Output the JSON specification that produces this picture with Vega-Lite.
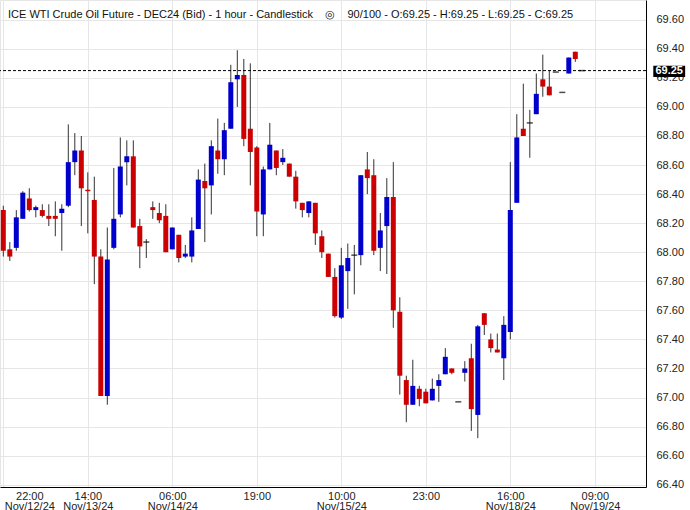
{
  "$schema": "https://vega.github.io/schema/vega-lite/v6.json",
  "width": 646,
  "height": 487,
  "padding": {"left": 0, "top": 0, "right": 44, "bottom": 23},
  "autosize": {"type": "none"},
  "background": "#ffffff",
  "title": {
    "text": "ICE WTI Crude Oil Future - DEC24 (Bid) - 1 hour - Candlestick \u00a0\u00a0\u00a0◎\u00a0\u00a0\u00a0 90/100 - O:69.25 - H:69.25 - L:69.25 - C:69.25",
    "anchor": "start",
    "frame": "group",
    "orient": "top",
    "offset": -18,
    "dy": 11,
    "baseline": "alphabetic",
    "dx": 8,
    "font": "Liberation Sans",
    "fontSize": 11,
    "fontWeight": "normal",
    "color": "#111111"
  },
  "config": {
    "view": {"stroke": "#e6e6e6"},
    "scale": {"continuousPadding": 0},
    "axis": {
      "labelFont": "Liberation Sans",
      "labelFontSize": 11,
      "labelColor": "#222222",
      "gridColor": "#e6e6e6",
      "gridWidth": 1,
      "domainColor": "#000000",
      "domainWidth": 1,
      "ticks": false,
      "tickSize": 0,
      "labelOverlap": false
    }
  },
  "data": {
    "values": [
      {"i":1,"o":68.29,"h":68.32,"l":67.97,"c":68.01},
      {"i":2,"o":68.02,"h":68.07,"l":67.94,"c":67.97},
      {"i":3,"o":68.03,"h":68.29,"l":68.01,"c":68.24},
      {"i":4,"o":68.23,"h":68.42,"l":68.23,"c":68.41},
      {"i":5,"o":68.37,"h":68.44,"l":68.28,"c":68.29},
      {"i":6,"o":68.29,"h":68.32,"l":68.24,"c":68.31},
      {"i":7,"o":68.29,"h":68.33,"l":68.24,"c":68.25},
      {"i":8,"o":68.25,"h":68.33,"l":68.18,"c":68.23},
      {"i":9,"o":68.25,"h":68.35,"l":68.11,"c":68.23},
      {"i":10,"o":68.27,"h":68.33,"l":68.01,"c":68.30},
      {"i":11,"o":68.32,"h":68.88,"l":68.31,"c":68.62},
      {"i":12,"o":68.62,"h":68.82,"l":68.53,"c":68.70},
      {"i":13,"o":68.70,"h":68.80,"l":68.18,"c":68.44},
      {"i":14,"o":68.43,"h":68.55,"l":68.13,"c":68.42},
      {"i":15,"o":68.36,"h":68.52,"l":67.78,"c":67.97},
      {"i":16,"o":67.97,"h":68.02,"l":67.01,"c":67.01},
      {"i":17,"o":67.01,"h":68.17,"l":66.95,"c":67.95},
      {"i":18,"o":68.03,"h":68.58,"l":68.02,"c":68.23},
      {"i":19,"o":68.26,"h":68.79,"l":68.24,"c":68.59},
      {"i":20,"o":68.62,"h":68.77,"l":68.46,"c":68.66},
      {"i":21,"o":68.66,"h":68.77,"l":68.17,"c":68.17},
      {"i":22,"o":68.18,"h":68.23,"l":67.89,"c":68.04},
      {"i":23,"o":68.07,"h":68.09,"l":67.96,"c":68.07},
      {"i":24,"o":68.31,"h":68.35,"l":68.23,"c":68.29},
      {"i":25,"o":68.27,"h":68.34,"l":68.20,"c":68.22},
      {"i":26,"o":68.25,"h":68.33,"l":68.00,"c":68.00},
      {"i":27,"o":68.02,"h":68.17,"l":68.02,"c":68.17},
      {"i":28,"o":68.12,"h":68.12,"l":67.93,"c":67.96},
      {"i":29,"o":67.97,"h":68.05,"l":67.96,"c":67.99},
      {"i":30,"o":67.97,"h":68.24,"l":67.93,"c":68.15},
      {"i":31,"o":68.16,"h":68.57,"l":68.16,"c":68.50},
      {"i":32,"o":68.49,"h":68.61,"l":68.07,"c":68.44},
      {"i":33,"o":68.46,"h":68.77,"l":68.26,"c":68.73},
      {"i":34,"o":68.70,"h":68.92,"l":68.54,"c":68.64},
      {"i":35,"o":68.64,"h":68.89,"l":68.53,"c":68.84},
      {"i":36,"o":68.85,"h":69.29,"l":68.85,"c":69.17},
      {"i":37,"o":69.19,"h":69.39,"l":69.00,"c":69.22},
      {"i":38,"o":69.22,"h":69.33,"l":68.73,"c":68.78},
      {"i":39,"o":68.85,"h":69.30,"l":68.46,"c":68.69},
      {"i":40,"o":68.72,"h":68.73,"l":68.11,"c":68.28},
      {"i":41,"o":68.26,"h":68.59,"l":68.11,"c":68.57},
      {"i":42,"o":68.57,"h":68.89,"l":68.57,"c":68.74},
      {"i":43,"o":68.70,"h":68.70,"l":68.53,"c":68.58},
      {"i":44,"o":68.62,"h":68.71,"l":68.60,"c":68.65},
      {"i":45,"o":68.61,"h":68.61,"l":68.52,"c":68.52},
      {"i":46,"o":68.52,"h":68.56,"l":68.30,"c":68.35},
      {"i":47,"o":68.34,"h":68.34,"l":68.24,"c":68.29},
      {"i":48,"o":68.27,"h":68.35,"l":68.24,"c":68.35},
      {"i":49,"o":68.34,"h":68.34,"l":68.05,"c":68.13},
      {"i":50,"o":68.11,"h":68.15,"l":67.96,"c":68.00},
      {"i":51,"o":67.99,"h":67.99,"l":67.83,"c":67.83},
      {"i":52,"o":67.83,"h":67.89,"l":67.55,"c":67.56},
      {"i":53,"o":67.55,"h":68.03,"l":67.54,"c":67.91},
      {"i":54,"o":67.87,"h":68.06,"l":67.61,"c":67.96},
      {"i":55,"o":67.98,"h":68.05,"l":67.71,"c":67.98},
      {"i":56,"o":67.98,"h":68.53,"l":67.91,"c":68.53},
      {"i":57,"o":68.57,"h":68.69,"l":68.40,"c":68.51},
      {"i":58,"o":68.53,"h":68.64,"l":67.98,"c":68.01},
      {"i":59,"o":68.03,"h":68.27,"l":67.87,"c":68.15},
      {"i":60,"o":68.18,"h":68.51,"l":67.85,"c":68.38},
      {"i":61,"o":68.38,"h":68.62,"l":67.48,"c":67.60},
      {"i":62,"o":67.59,"h":67.69,"l":67.02,"c":67.15},
      {"i":63,"o":67.12,"h":67.15,"l":66.83,"c":66.95},
      {"i":64,"o":66.95,"h":67.26,"l":66.95,"c":67.08},
      {"i":65,"o":67.06,"h":67.08,"l":66.94,"c":66.99},
      {"i":66,"o":67.04,"h":67.06,"l":66.96,"c":66.96},
      {"i":67,"o":66.98,"h":67.13,"l":66.98,"c":67.06},
      {"i":68,"o":67.08,"h":67.16,"l":66.97,"c":67.12},
      {"i":69,"o":67.16,"h":67.34,"l":67.16,"c":67.28},
      {"i":70,"o":67.20,"h":67.20,"l":67.16,"c":67.17},
      {"i":71,"o":66.97,"h":66.97,"l":66.97,"c":66.97},
      {"i":72,"o":67.17,"h":67.25,"l":67.11,"c":67.20},
      {"i":73,"o":67.27,"h":67.37,"l":66.77,"c":66.92},
      {"i":74,"o":66.88,"h":67.50,"l":66.72,"c":67.49},
      {"i":75,"o":67.58,"h":67.58,"l":67.43,"c":67.50},
      {"i":76,"o":67.40,"h":67.44,"l":67.31,"c":67.34},
      {"i":77,"o":67.33,"h":67.44,"l":67.31,"c":67.31},
      {"i":78,"o":67.27,"h":67.56,"l":67.12,"c":67.50},
      {"i":79,"o":67.45,"h":68.62,"l":67.40,"c":68.29},
      {"i":80,"o":68.34,"h":68.95,"l":68.34,"c":68.79},
      {"i":81,"o":68.85,"h":69.16,"l":68.80,"c":68.80},
      {"i":82,"o":68.89,"h":68.98,"l":68.65,"c":68.89},
      {"i":83,"o":68.95,"h":69.23,"l":68.95,"c":69.09},
      {"i":84,"o":69.19,"h":69.36,"l":69.07,"c":69.14},
      {"i":85,"o":69.14,"h":69.25,"l":69.08,"c":69.08},
      {"i":86,"o":69.24,"h":69.24,"l":69.24,"c":69.24},
      {"i":87,"o":69.10,"h":69.10,"l":69.10,"c":69.10},
      {"i":88,"o":69.23,"h":69.34,"l":69.23,"c":69.34},
      {"i":89,"o":69.38,"h":69.38,"l":69.31,"c":69.33},
      {"i":90,"o":69.25,"h":69.25,"l":69.25,"c":69.25}
    ]
  },
  "layer": [
    {
      "mark": {"type": "rule", "color": "#333333", "strokeWidth": 1},
      "encoding": {
        "x": {
          "field": "i", "type": "quantitative",
          "scale": {"domain": [0.492, 99.877], "nice": false, "zero": false, "padding": 0},
          "axis": {
            "title": null,
            "values": [1, 14, 27, 40, 53, 66, 79, 92],
            "tickCount": 30,
            "grid": true,
            "labelFlush": false,
            "labelOverlap": false,
            "labelPadding": 3,
            "labelBaseline": "top",
            "labelLineHeight": 10,
            "labelOffset": {"condition": {"test": "datum.value == 1", "value": 26}, "value": 0},
            "labelExpr": "datum.value == 1 ? ['22:00', 'Nov/12/24'] : datum.value == 14 ? ['14:00', 'Nov/13/24'] : datum.value == 27 ? ['06:00', 'Nov/14/24'] : datum.value == 40 ? '19:00' : datum.value == 53 ? ['10:00', 'Nov/15/24'] : datum.value == 66 ? '23:00' : datum.value == 79 ? ['16:00', 'Nov/18/24'] : ['09:00', 'Nov/19/24']"
          }
        },
        "y": {
          "field": "l", "type": "quantitative",
          "scale": {"domain": [66.384, 69.736], "nice": false, "zero": false, "padding": 0},
          "axis": {
            "title": null,
            "orient": "right",
            "values": [66.4, 66.6, 66.8, 67.0, 67.2, 67.4, 67.6, 67.8, 68.0, 68.2, 68.4, 68.6, 68.8, 69.0, 69.2, 69.4, 69.6],
            "tickCount": 30,
            "labelExpr": "format(datum.value, '.2f')",
            "grid": true,
            "labelOverlap": false,
            "labelFlush": false,
            "labelBound": false,
            "labelSeparation": 0,
            "labelPadding": 10
          }
        },
        "y2": {"field": "h"}
      }
    },
    {
      "data": {"values": [{}]},
      "mark": {"type": "rule", "color": "#000000", "strokeWidth": 1, "strokeDash": [3, 2]},
      "encoding": {
        "y": {"datum": 69.25, "type": "quantitative", "axis": {"title": null, "orient": "right", "labelOverlap": false}}
      }
    },
    {
      "transform": [{"filter": "datum.o != datum.c"}],
      "mark": {"type": "bar", "width": 5},
      "encoding": {
        "x": {"field": "i", "type": "quantitative", "axis": {"title": null, "labelOverlap": false}},
        "y": {"field": "o", "type": "quantitative", "axis": {"title": null, "orient": "right", "labelOverlap": false}},
        "y2": {"field": "c"},
        "color": {"condition": {"test": "datum.c > datum.o", "value": "#0000cc"}, "value": "#cc0000"}
      }
    },
    {
      "transform": [{"filter": "datum.o == datum.c"}],
      "mark": {"type": "tick", "orient": "horizontal", "size": 6, "thickness": 1.5, "color": "#000000"},
      "encoding": {
        "x": {"field": "i", "type": "quantitative", "axis": {"title": null, "labelOverlap": false}},
        "y": {"field": "c", "type": "quantitative", "axis": {"title": null, "orient": "right", "labelOverlap": false}}
      }
    },
    {
      "data": {"values": [{}]},
      "mark": {"type": "rect", "color": "#000000"},
      "encoding": {
        "x": {"datum": 101.0, "type": "quantitative", "axis": {"title": null, "labelOverlap": false}},
        "x2": {"datum": 105.9},
        "y": {"datum": 69.206, "type": "quantitative", "axis": {"title": null, "orient": "right", "labelOverlap": false}},
        "y2": {"datum": 69.284}
      }
    },
    {
      "data": {"values": [{}]},
      "mark": {"type": "text", "color": "#ffffff", "fontWeight": "bold", "fontSize": 11, "font": "Liberation Sans", "align": "center", "baseline": "middle"},
      "encoding": {
        "x": {"datum": 103.45, "type": "quantitative", "axis": {"title": null, "labelOverlap": false}},
        "y": {"datum": 69.25, "type": "quantitative", "axis": {"title": null, "orient": "right", "labelOverlap": false}},
        "text": {"value": "69.25"}
      }
    }
  ]
}
